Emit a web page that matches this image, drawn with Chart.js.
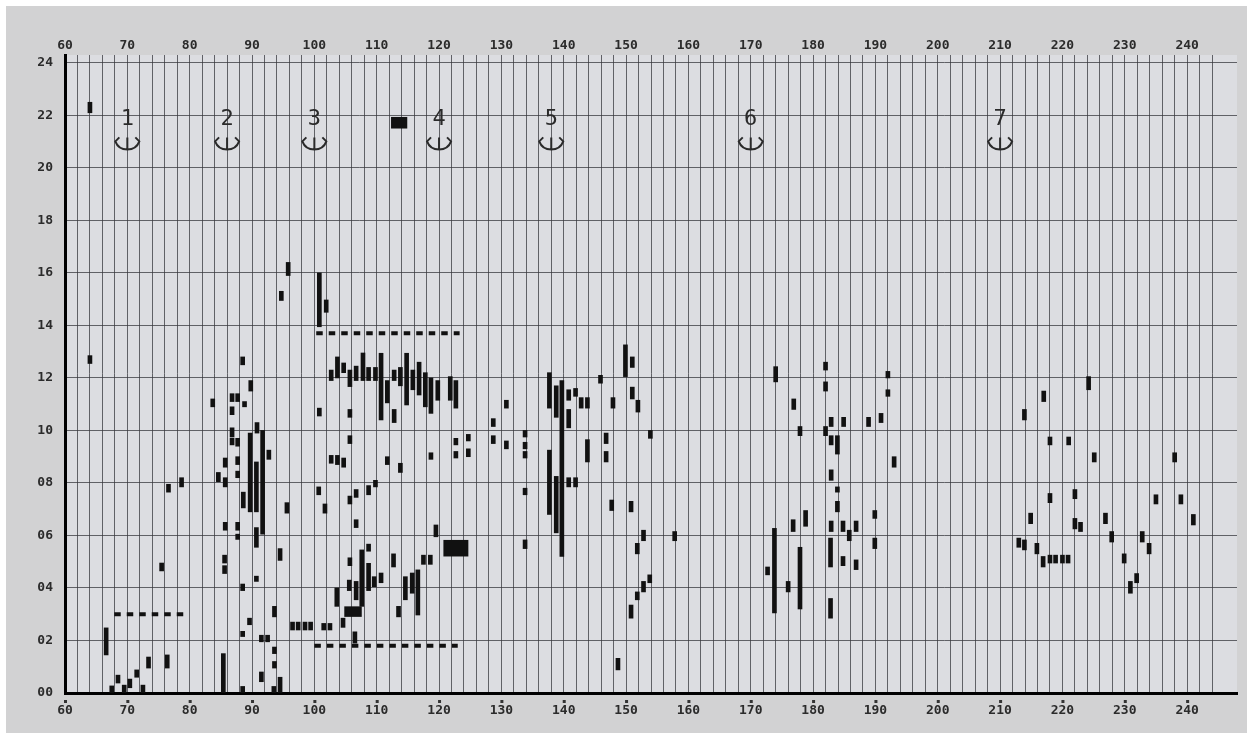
<!DOCTYPE html>
<html>
<head>
<meta charset="utf-8">
<script src="https://cdn.jsdelivr.net/npm/chart.js@4.4.1/dist/chart.umd.min.js"></script>
<style>
  html, body { margin: 0; padding: 0; background: #fff; }
  #c { display: block; }
</style>
</head>
<body>
<canvas id="c" width="1252" height="740"></canvas>
<script>
// marks: [x, yLow, yHigh]
const groupA = [
  [64.0, 22.1, 22.5], [64.0, 12.55, 12.85], [66.6, 1.45, 2.48], [67.5, 0.0, 0.27],
  [68.5, 0.38, 0.68], [69.5, 0.0, 0.3], [70.4, 0.2, 0.53], [71.5, 0.6, 0.88],
  [72.5, 0.0, 0.3], [73.4, 0.95, 1.37], [75.5, 4.65, 4.95], [76.4, 0.95, 1.45],
  [76.6, 7.65, 7.95], [78.7, 7.85, 8.2]
];
const groupB = [
  [83.7, 10.9, 11.2], [84.6, 8.05, 8.4], [85.4, 0.0, 1.5], [85.6, 4.95, 5.25],
  [85.6, 4.55, 4.85], [85.7, 8.6, 8.95], [85.7, 7.85, 8.2], [85.7, 6.2, 6.5],
  [86.8, 11.1, 11.4], [86.8, 10.6, 10.9], [86.8, 9.75, 10.1], [86.8, 9.45, 9.7],
  [87.7, 11.1, 11.4], [87.7, 9.4, 9.7], [87.7, 8.7, 9.0], [87.7, 8.2, 8.45],
  [87.7, 6.2, 6.5], [87.7, 5.85, 6.05], [88.5, 12.5, 12.8], [88.5, 3.9, 4.15],
  [88.5, 2.15, 2.35], [88.5, 0.0, 0.25], [88.6, 7.05, 7.65], [88.8, 10.9, 11.1],
  [89.6, 2.6, 2.85], [89.7, 6.9, 9.9], [89.8, 11.5, 11.9], [90.7, 6.9, 8.8],
  [90.7, 5.55, 6.3], [90.7, 4.25, 4.45], [90.8, 9.9, 10.3], [91.5, 1.95, 2.2],
  [91.5, 0.43, 0.8], [91.7, 6.05, 10.0], [92.5, 1.95, 2.2], [92.7, 8.9, 9.25],
  [93.6, 2.9, 3.3], [93.6, 1.5, 1.75], [93.6, 0.95, 1.2], [93.5, 0.0, 0.25],
  [94.5, 0.0, 0.6], [94.5, 5.05, 5.5], [94.7, 14.95, 15.3], [95.6, 6.85, 7.25],
  [95.8, 15.9, 16.4], [96.5, 2.4, 2.7], [97.4, 2.4, 2.7], [98.5, 2.4, 2.7],
  [99.4, 2.4, 2.7]
];
const groupC = [
  [100.8, 13.95, 16.0], [100.8, 10.55, 10.85], [100.7, 7.55, 7.85], [101.5, 2.4, 2.65],
  [101.7, 6.85, 7.2], [101.9, 14.5, 14.97], [102.5, 2.4, 2.65], [102.7, 11.9, 12.3],
  [102.7, 8.75, 9.05], [103.6, 3.3, 4.0], [103.7, 12.0, 12.8], [103.7, 8.7, 9.05],
  [104.6, 2.5, 2.85], [104.7, 12.2, 12.57], [104.7, 8.6, 8.95], [105.6, 3.9, 4.3],
  [105.7, 11.67, 12.3], [105.7, 10.5, 10.8], [105.7, 9.5, 9.8], [105.7, 7.2, 7.5],
  [105.7, 4.85, 5.15], [106.5, 1.9, 2.33], [106.7, 11.9, 12.45], [106.7, 7.45, 7.75],
  [106.7, 6.3, 6.6], [106.7, 3.55, 4.25], [107.6, 3.3, 5.45], [107.8, 11.9, 12.95],
  [108.7, 11.9, 12.4], [108.7, 7.55, 7.9], [108.7, 5.4, 5.67], [108.7, 3.9, 4.94],
  [109.6, 4.05, 4.43], [109.8, 11.9, 12.4], [109.8, 7.85, 8.1], [110.7, 10.4, 12.94],
  [110.7, 4.2, 4.57], [111.7, 11.05, 11.9], [111.7, 8.7, 9.0], [112.7, 4.8, 5.3],
  [112.8, 11.9, 12.3], [112.8, 10.3, 10.8], [113.5, 2.9, 3.3], [113.8, 11.7, 12.4],
  [113.8, 8.4, 8.75], [114.6, 3.55, 4.43], [114.8, 10.97, 12.94], [115.7, 3.8, 4.57],
  [115.8, 11.55, 12.3], [116.6, 2.97, 4.69], [116.8, 11.35, 12.6], [117.5, 4.9, 5.25],
  [117.8, 10.9, 12.2], [118.6, 4.9, 5.25], [118.7, 10.65, 12.0], [118.7, 8.9, 9.15],
  [119.5, 5.95, 6.4], [119.8, 11.15, 11.9], [121.8, 11.15, 12.05], [122.7, 10.85, 11.9],
  [122.7, 9.45, 9.7], [122.7, 8.95, 9.2], [124.7, 9.6, 9.85], [124.7, 9.0, 9.3]
];
const groupD = [
  [128.7, 10.15, 10.45], [128.7, 9.5, 9.8], [130.8, 10.85, 11.15], [130.8, 9.3, 9.6],
  [133.8, 9.75, 10.0], [133.8, 9.3, 9.55], [133.8, 8.95, 9.2], [133.8, 7.55, 7.8],
  [133.8, 5.5, 5.83], [137.7, 10.85, 12.2], [137.7, 6.8, 9.25], [138.8, 10.5, 11.7],
  [138.8, 6.1, 8.25], [139.7, 5.2, 11.9], [140.8, 11.15, 11.55], [140.8, 10.1, 10.8],
  [140.8, 7.85, 8.2], [141.9, 11.3, 11.6], [141.9, 7.85, 8.2], [142.8, 10.85, 11.25],
  [143.8, 10.85, 11.25], [143.8, 8.8, 9.65], [145.9, 11.8, 12.1], [146.8, 9.5, 9.9],
  [146.8, 8.8, 9.2], [147.7, 6.95, 7.35], [147.9, 10.85, 11.25], [148.7, 0.88, 1.32],
  [149.9, 12.05, 13.26], [150.8, 6.9, 7.3], [150.8, 2.85, 3.35], [151.0, 12.4, 12.8],
  [151.0, 11.2, 11.65], [151.8, 5.3, 5.7], [151.8, 3.55, 3.85], [151.9, 10.7, 11.15],
  [152.8, 5.8, 6.2], [152.8, 3.85, 4.25], [153.8, 4.2, 4.5], [153.9, 9.7, 10.0],
  [157.8, 5.8, 6.15]
];
const groupE = [
  [172.7, 4.5, 4.8], [173.8, 3.05, 6.27], [174.0, 11.85, 12.43], [176.0, 3.85, 4.25],
  [176.8, 6.15, 6.6], [176.9, 10.8, 11.2], [177.9, 9.8, 10.15], [177.9, 3.2, 5.55],
  [178.8, 6.35, 6.95], [182.0, 12.3, 12.6], [182.0, 11.5, 11.85], [182.0, 9.8, 10.15],
  [182.8, 4.8, 5.9], [182.8, 2.85, 3.6], [182.9, 10.15, 10.5], [182.9, 9.45, 9.8],
  [182.9, 8.1, 8.5], [182.9, 6.15, 6.55], [183.9, 9.1, 9.8], [183.9, 7.65, 7.85],
  [183.9, 6.9, 7.3], [184.8, 6.15, 6.55], [184.8, 4.85, 5.2], [184.9, 10.15, 10.5],
  [185.8, 5.8, 6.2], [186.9, 6.15, 6.55], [186.9, 4.7, 5.07], [188.9, 10.15, 10.5],
  [189.9, 6.65, 6.95], [189.9, 5.5, 5.9], [190.9, 10.3, 10.65], [192.0, 12.0, 12.25],
  [192.0, 11.3, 11.55], [193.0, 8.6, 9.0]
];
const groupF = [
  [213.0, 5.55, 5.9], [213.9, 10.4, 10.8], [213.9, 5.45, 5.83], [214.9, 6.45, 6.85],
  [215.9, 5.3, 5.7], [216.9, 4.8, 5.2], [217.0, 11.1, 11.5], [218.0, 9.45, 9.75],
  [218.0, 7.25, 7.6], [218.0, 4.95, 5.25], [218.9, 4.95, 5.25], [220.0, 4.95, 5.25],
  [220.9, 4.95, 5.25], [221.0, 9.45, 9.75], [222.0, 7.4, 7.75], [222.0, 6.25, 6.65],
  [222.9, 6.15, 6.5], [224.2, 11.55, 12.05], [225.1, 8.8, 9.15], [226.9, 6.45, 6.85],
  [227.9, 5.75, 6.15], [229.9, 4.95, 5.3], [230.9, 3.8, 4.25], [231.9, 4.2, 4.55],
  [232.8, 5.75, 6.15], [233.9, 5.3, 5.7], [235.0, 7.2, 7.55], [238.0, 8.8, 9.15],
  [239.0, 7.2, 7.55], [241.0, 6.4, 6.8]
];
// solid blocks: [x0, x1, y0, y1]
const blocks = [
  [112.3, 114.9, 21.5, 21.94],
  [120.7, 124.7, 5.2, 5.83],
  [104.8, 107.6, 2.9, 3.3]
];
// dashed rows: [x0, x1, y]
const dashRows = [
  [67.9, 79.0, 3.0],
  [100.3, 123.3, 13.7],
  [100.0, 123.0, 1.8]
];
// numbered markers
const markerLabels = ["1", "2", "3", "4", "5", "6", "7"];
const markerX = [70, 86, 100, 120, 138, 170, 210];

const groups = [groupA, groupB, groupC, groupD, groupE, groupF];
const INK = "#111";
const tickFont = { family: "'DejaVu Sans Mono', monospace", size: 13, weight: "bold" };
const gridCol = "rgba(55,55,60,0.75)";

const datasets = groups.map(g => ({
  type: "bar",
  data: g.map(m => ({ x: m[0], y: [m[1], m[2]] })),
  backgroundColor: INK,
  barThickness: 4,
  grouped: false,
  borderWidth: 0
}));
dashRows.forEach(r => {
  datasets.push({
    type: "line",
    data: [{ x: r[0], y: r[2] }, { x: r[1], y: r[2] }],
    borderColor: INK,
    borderWidth: 4,
    borderDash: [6.5, 6],
    borderCapStyle: "butt",
    pointRadius: 0,
    fill: false
  });
});

const xLabel = v => (v % 10 === 0 && v <= 240) ? String(v) : "";

const decor = {
  id: "decor",
  beforeDraw(chart) {
    const { ctx, chartArea: a } = chart;
    ctx.save();
    ctx.fillStyle = "#fff";
    ctx.fillRect(0, 0, chart.width, chart.height);
    ctx.fillStyle = "#d2d2d3";
    ctx.fillRect(6, 6, 1241, 727);
    ctx.fillStyle = "#dcdde1";
    ctx.fillRect(a.left, a.top, a.right - a.left, a.bottom - a.top);
    ctx.restore();
  },
  afterDraw(chart) {
    const { ctx } = chart;
    const x = chart.scales.x, y = chart.scales.y;
    ctx.save();
    ctx.fillStyle = INK;
    blocks.forEach(b => {
      const x0 = x.getPixelForValue(b[0]), x1 = x.getPixelForValue(b[1]);
      const y0 = y.getPixelForValue(b[2]), y1 = y.getPixelForValue(b[3]);
      ctx.fillRect(x0, y1, x1 - x0, y0 - y1);
    });
    // tick dots under axis
    ctx.fillStyle = "#333";
    for (let v = 60; v <= 240; v += 10) {
      ctx.fillRect(x.getPixelForValue(v) - 1, 700, 3, 3);
    }
    // numbered markers with arrows
    ctx.fillStyle = "#2a2a2a";
    ctx.strokeStyle = "#2a2a2a";
    ctx.font = "22px 'DejaVu Sans Mono', monospace";
    ctx.textAlign = "center";
    ctx.textBaseline = "middle";
    ctx.lineWidth = 2;
    markerLabels.forEach((t, i) => {
      const cx = x.getPixelForValue(markerX[i]);
      ctx.fillText(t, cx, y.getPixelForValue(21.85));
      const ty = y.getPixelForValue(21.2), by = y.getPixelForValue(20.7);
      ctx.beginPath();
      ctx.moveTo(cx, ty + 1); ctx.lineTo(cx, by);
      ctx.moveTo(cx - 8, ty + 1); ctx.lineTo(cx - 12, ty + 5);
      ctx.quadraticCurveTo(cx - 9, by, cx, by);
      ctx.quadraticCurveTo(cx + 9, by, cx + 12, ty + 5);
      ctx.lineTo(cx + 8, ty + 1);
      ctx.stroke();
    });
    ctx.restore();
  }
};

new Chart(document.getElementById("c"), {
  data: { datasets },
  options: {
    responsive: false,
    devicePixelRatio: 1,
    animation: false,
    layout: { padding: { left: 0, right: 15, top: 0, bottom: 0 } },
    plugins: { legend: { display: false }, tooltip: { enabled: false } },
    scales: {
      x: {
        type: "linear", position: "bottom", min: 60, max: 248, offset: false,
        ticks: { stepSize: 2, includeBounds: false, autoSkip: false, maxRotation: 0,
          callback: xLabel, font: tickFont, color: "#2b2b2b", padding: 10 },
        grid: { drawTicks: false, lineWidth: 1, offset: false,
          color: c => (c.tick && (c.tick.value > 244 || c.tick.value === 60)) ? "rgba(0,0,0,0)" : gridCol },
        border: { color: "#000", width: 3 },
        afterFit: s => { s.height = 47; }
      },
      x2: {
        type: "linear", axis: "x", position: "top", min: 60, max: 248, offset: false,
        ticks: { stepSize: 2, includeBounds: false, autoSkip: false, maxRotation: 0,
          callback: xLabel, font: tickFont, color: "#2b2b2b", padding: 2 },
        grid: { display: false, drawTicks: false },
        border: { display: false },
        afterFit: s => { s.height = 55; }
      },
      y: {
        type: "linear", min: 0, max: 24.3,
        ticks: { stepSize: 2, includeBounds: false, font: tickFont, color: "#2b2b2b", padding: 12,
          callback: v => String(v).padStart(2, "0") },
        grid: { drawTicks: false, lineWidth: 1,
          color: c => (c.tick && c.tick.value === 0) ? "rgba(0,0,0,0)" : gridCol },
        border: { color: "#000", width: 3 },
        afterFit: s => { s.width = 65; }
      }
    }
  },
  plugins: [decor]
});
</script>
</body>
</html>
